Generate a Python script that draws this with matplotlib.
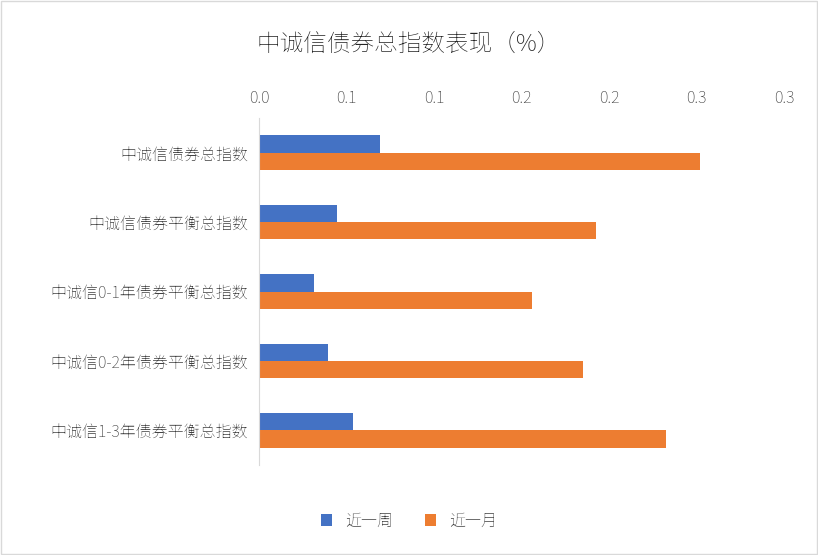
import matplotlib
matplotlib.use("Agg")
import matplotlib.pyplot as plt
from matplotlib import font_manager as fm
import numpy as np

cjk = None
for f in fm.findSystemFonts():
    if "NotoSansCJK" in f.replace(" ", "") or "NotoSansSC" in f or "notosanscjk" in f.lower():
        fm.fontManager.addfont(f)
        cjk = f
names = [fm.FontProperties(fname=cjk).get_name()] if cjk else []
plt.rcParams["font.family"] = "sans-serif"
plt.rcParams["font.sans-serif"] = names + ["Noto Sans CJK SC", "Noto Sans CJK JP", "DejaVu Sans"]

categories = ["中诚信债券总指数", "中诚信债券平衡总指数", "中诚信0-1年债券平衡总指数",
              "中诚信0-2年债券平衡总指数", "中诚信1-3年债券平衡总指数"]
week = [0.069, 0.0446, 0.0314, 0.0394, 0.0537]
month = [0.252, 0.1925, 0.156, 0.185, 0.2326]
tick_vals = [0, 0.05, 0.10, 0.15, 0.20, 0.25, 0.30]
tick_labels = ["0.0", "0.1", "0.1", "0.2", "0.2", "0.3", "0.3"]

fig = plt.figure(figsize=(8.18, 5.55), dpi=100)
fig.patches.append(plt.Rectangle((0.001, 0.001), 0.998, 0.998, transform=fig.transFigure,
                                 fill=False, edgecolor="#d9d9d9", lw=1))
ax = fig.add_axes([259/818, 90/555, 525/818, 347/555])
y = np.arange(len(categories))
h = 0.25
ax.barh(y - h/2, week, height=h, color="#4472C4", label="近一周")
ax.barh(y + h/2, month, height=h, color="#ED7D31", label="近一月")
ax.set_ylim(len(categories) - 0.5, -0.5)
ax.set_yticks(y)
ax.set_yticklabels(categories, fontsize=11.5, color="#404040")
ax.set_xlim(0, 0.30)
ax.set_xticks(tick_vals)
ax.set_xticklabels(tick_labels, fontsize=11.5, color="#404040")
ax.xaxis.tick_top()
ax.tick_params(length=0, pad=8)
for s in ["top", "right", "bottom"]:
    ax.spines[s].set_visible(False)
ax.spines["left"].set_color("#d9d9d9")
fig.text(0.5, 0.92, "中诚信债券总指数表现（%）", ha="center", va="center", fontsize=17, color="#262626")
fig.legend(loc="lower center", ncol=2, frameon=False, fontsize=11.5, bbox_to_anchor=(0.5, 0.02),
           handlelength=0.7, handleheight=0.7, labelcolor="#404040")
fig.savefig("out.png", dpi=100)
